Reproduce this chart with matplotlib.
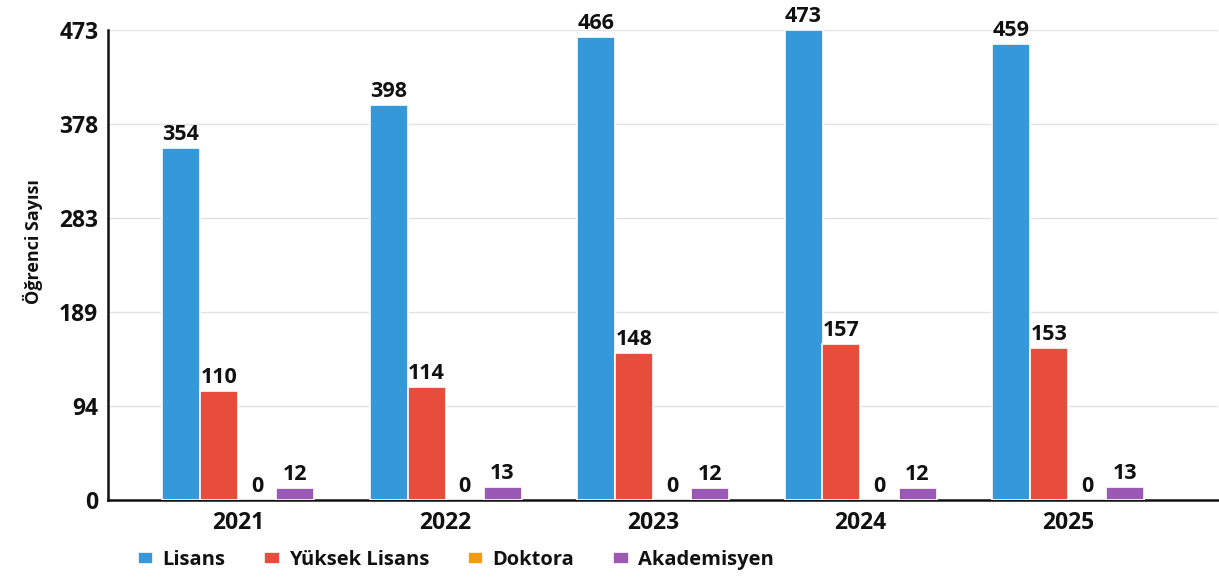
import matplotlib
matplotlib.use("Agg")
import matplotlib.pyplot as plt
import numpy as np

years = ["2021", "2022", "2023", "2024", "2025"]
series_names = ["Lisans", "Yüksek Lisans", "Doktora", "Akademisyen"]
lisans = [354, 398, 466, 473, 459]
yuksek_lisans = [110, 114, 148, 157, 153]
doktora = [0, 0, 0, 0, 0]
akademisyen = [12, 13, 12, 12, 13]
colors = ["#3498db", "#e74c3c", "#f39c12", "#9b59b6"]
ytick_values = [0, 94.6, 189.2, 283.8, 378.4, 473]
ytick_labels = ["0", "94", "189", "283", "378", "473"]

plt.rcParams['font.family'] = ['Open Sans', 'DejaVu Sans']

fig = plt.figure(figsize=(12.19, 5.77), dpi=100)
W, H = 1219, 577
ax = fig.add_axes([108 / W, 1 - 500 / H, (1218 - 108) / W, (500 - 30) / H])

x = np.arange(len(years))
slot = 38 / 207.5
offsets = [-1.5 * slot, -0.5 * slot, 0.5 * slot, 1.5 * slot]
data = [lisans, yuksek_lisans, doktora, akademisyen]
for vals, off, c, name in zip(data, offsets, colors, series_names):
    bars = ax.bar(x + off, vals, width=slot, color=c, edgecolor="white",
                  linewidth=1.2, label=name, zorder=3)
    ax.bar_label(bars, labels=[str(v) for v in vals], padding=2,
                 fontsize=15.5, fontweight="bold", color="#111111")

ax.set_xlim((108 - 238) / 207.5, (1218 - 238) / 207.5)
ax.set_ylim(0, 473)
ax.set_yticks(ytick_values)
ax.set_yticklabels(ytick_labels)
ax.set_xticks(x)
ax.set_xticklabels(years)
ax.tick_params(axis="both", length=0, labelsize=16.5)
ax.tick_params(axis="y", pad=7)
ax.tick_params(axis="x", pad=8)
for lab in ax.get_xticklabels() + ax.get_yticklabels():
    lab.set_fontweight("bold")
    lab.set_color("#111111")

ax.grid(axis="y", color="#e3e3e3", linewidth=1, zorder=0)
ax.set_axisbelow(True)
for s in ["top", "right"]:
    ax.spines[s].set_visible(False)
ax.spines["left"].set_linewidth(1.8)
ax.spines["bottom"].set_linewidth(1.8)
ax.spines["left"].set_color("#111111")
ax.spines["bottom"].set_color("#111111")

fig.text(33 / W, 1 - 242 / H, "Öğrenci Sayısı", rotation=90, ha="center",
         va="center", fontsize=13, fontweight="bold", color="#111111")

leg = fig.legend(loc="center left", bbox_to_anchor=(138 / W, 1 - 560 / H),
                 ncol=4, frameon=False, handlelength=0.75, handleheight=0.55,
                 handletextpad=0.45, columnspacing=1.95, borderpad=0,
                 borderaxespad=0,
                 prop={"size": 14.5, "weight": "bold"})
for t in leg.get_texts():
    t.set_color("#111111")

fig.savefig("out.png", dpi=100)
